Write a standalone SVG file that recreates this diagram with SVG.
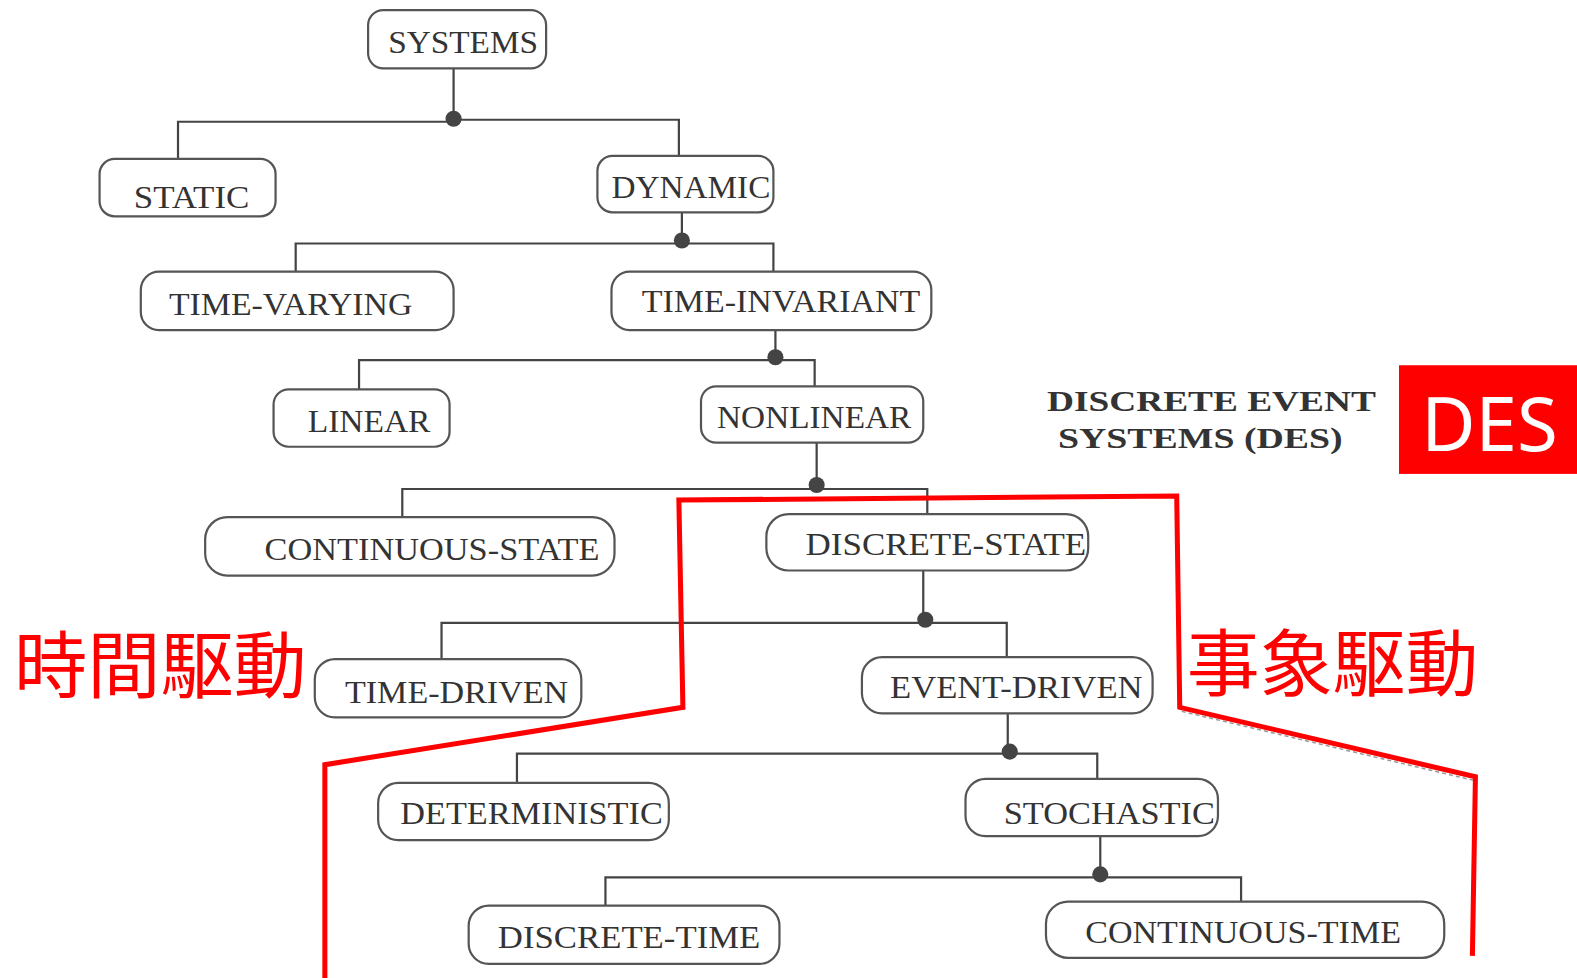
<svg xmlns="http://www.w3.org/2000/svg" width="1577" height="978" viewBox="0 0 1577 978">
<style>
.box{fill:none;stroke:#555;stroke-width:2.2}
.lbl{font-family:"Liberation Serif","DejaVu Serif",serif;font-size:32px;fill:#333;text-anchor:start}
.ln{fill:none;stroke:#444;stroke-width:2.2}
.dot{fill:#444}
.red{fill:none;stroke:#f00;stroke-width:5;stroke-linejoin:miter}
.cjk{font-family:"Noto Sans CJK JP","Noto Sans CJK TC",sans-serif;font-size:72px;fill:#f00}
.des{font-family:"Liberation Serif","DejaVu Serif",serif;font-weight:bold;font-size:30px;fill:#333}
</style>
<rect width="1577" height="978" fill="#fff"/>
<g transform="scale(1.00574,1.00617)">
<g id="connectors">
<path class="ln" d="M451,68 V118 M177,158 V121 H451 M451,119 H675 V155"/>
<circle class="dot" cx="451" cy="118" r="8"/>
<path class="ln" d="M678,211 V239 M294,270 V242 H678 H769 V270"/>
<circle class="dot" cx="678" cy="239" r="8"/>
<path class="ln" d="M771,328 V355 M357,387 V358 H771 H810 V384"/>
<circle class="dot" cx="771" cy="355" r="8"/>
<path class="ln" d="M812,440 V482 M400,514 V486 H812 H922 V511"/>
<circle class="dot" cx="812" cy="482" r="8"/>
<path class="ln" d="M918,567 V616 M439,655 V619 H918 H1001 V653"/>
<circle class="dot" cx="920" cy="616" r="8"/>
<path class="ln" d="M1002,709 V747 M514,778 V749 H1004 H1091 V774"/>
<circle class="dot" cx="1004" cy="747" r="8"/>
<path class="ln" d="M1094,831 V869 M602,900 V872 H1094 H1234 V896"/>
<circle class="dot" cx="1094" cy="869" r="8"/>
</g>
<g id="n-systems"><rect class="box" x="366" y="10" width="177" height="58" rx="15"/><text class="lbl" x="386" y="53" textLength="149" lengthAdjust="spacingAndGlyphs">SYSTEMS</text></g>
<g id="n-static"><rect class="box" x="99" y="158" width="175" height="57" rx="15"/><text class="lbl" x="133" y="207" textLength="115" lengthAdjust="spacingAndGlyphs">STATIC</text></g>
<g id="n-dynamic"><rect class="box" x="594" y="155" width="175" height="56" rx="15"/><text class="lbl" x="608" y="197" textLength="158" lengthAdjust="spacingAndGlyphs">DYNAMIC</text></g>
<g id="n-timevarying"><rect class="box" x="140" y="270" width="311" height="58" rx="18"/><text class="lbl" x="168" y="313" textLength="242" lengthAdjust="spacingAndGlyphs">TIME-VARYING</text></g>
<g id="n-timeinvariant"><rect class="box" x="608" y="270" width="318" height="58" rx="18"/><text class="lbl" x="638" y="310" textLength="277" lengthAdjust="spacingAndGlyphs">TIME-INVARIANT</text></g>
<g id="n-linear"><rect class="box" x="272" y="387" width="175" height="57" rx="15"/><text class="lbl" x="306" y="429" textLength="122" lengthAdjust="spacingAndGlyphs">LINEAR</text></g>
<g id="n-nonlinear"><rect class="box" x="697" y="384" width="221" height="56" rx="15"/><text class="lbl" x="713" y="425" textLength="193" lengthAdjust="spacingAndGlyphs">NONLINEAR</text></g>
<g id="n-contstate"><rect class="box" x="204" y="514" width="407" height="58" rx="22"/><text class="lbl" x="263" y="557" textLength="333" lengthAdjust="spacingAndGlyphs">CONTINUOUS-STATE</text></g>
<g id="n-discstate"><rect class="box" x="762" y="511" width="320" height="56" rx="22"/><text class="lbl" x="801" y="552" textLength="279" lengthAdjust="spacingAndGlyphs">DISCRETE-STATE</text></g>
<g id="n-timedriven"><rect class="box" x="313" y="655" width="265" height="58" rx="20"/><text class="lbl" x="343" y="699" textLength="222" lengthAdjust="spacingAndGlyphs">TIME-DRIVEN</text></g>
<g id="n-eventdriven"><rect class="box" x="857" y="653" width="289" height="56" rx="20"/><text class="lbl" x="885" y="694" textLength="251" lengthAdjust="spacingAndGlyphs">EVENT-DRIVEN</text></g>
<g id="n-deterministic"><rect class="box" x="376" y="778" width="289" height="57" rx="20"/><text class="lbl" x="398" y="819" textLength="261" lengthAdjust="spacingAndGlyphs">DETERMINISTIC</text></g>
<g id="n-stochastic"><rect class="box" x="960" y="774" width="251" height="57" rx="20"/><text class="lbl" x="998" y="819" textLength="210" lengthAdjust="spacingAndGlyphs">STOCHASTIC</text></g>
<g id="n-disctime"><rect class="box" x="466" y="900" width="309" height="58" rx="20"/><text class="lbl" x="495" y="942" textLength="261" lengthAdjust="spacingAndGlyphs">DISCRETE-TIME</text></g>
<g id="n-conttime"><rect class="box" x="1040" y="896" width="396" height="56" rx="22"/><text class="lbl" x="1079" y="937" textLength="314" lengthAdjust="spacingAndGlyphs">CONTINUOUS-TIME</text></g>
<g id="des-title">
<text class="des" x="1041" y="408" textLength="327" lengthAdjust="spacingAndGlyphs">DISCRETE EVENT</text>
<text class="des" x="1052" y="445" textLength="283" lengthAdjust="spacingAndGlyphs">SYSTEMS (DES)</text>
</g>
<g id="des-badge">
<rect x="1391" y="363" width="186" height="108" fill="#f00"/>
<text x="1481" y="448" text-anchor="middle" font-family="'Noto Sans','Liberation Sans',sans-serif" font-size="74" fill="#fff">DES</text>
</g>
<g id="region">
<path d="M1175,707 L1467,776" fill="none" stroke="#999" stroke-width="1.5" stroke-dasharray="4,3"/>
<path class="red" d="M323,972 V760 L679,703 L675,497 L1170,493 L1173,703 L1467,772 L1464,950"/>
</g>
<text class="cjk" x="14" y="688" textLength="291" lengthAdjust="spacingAndGlyphs">時間駆動</text>
<text class="cjk" x="1180" y="686" textLength="290" lengthAdjust="spacingAndGlyphs">事象駆動</text>
</g>
</svg>
